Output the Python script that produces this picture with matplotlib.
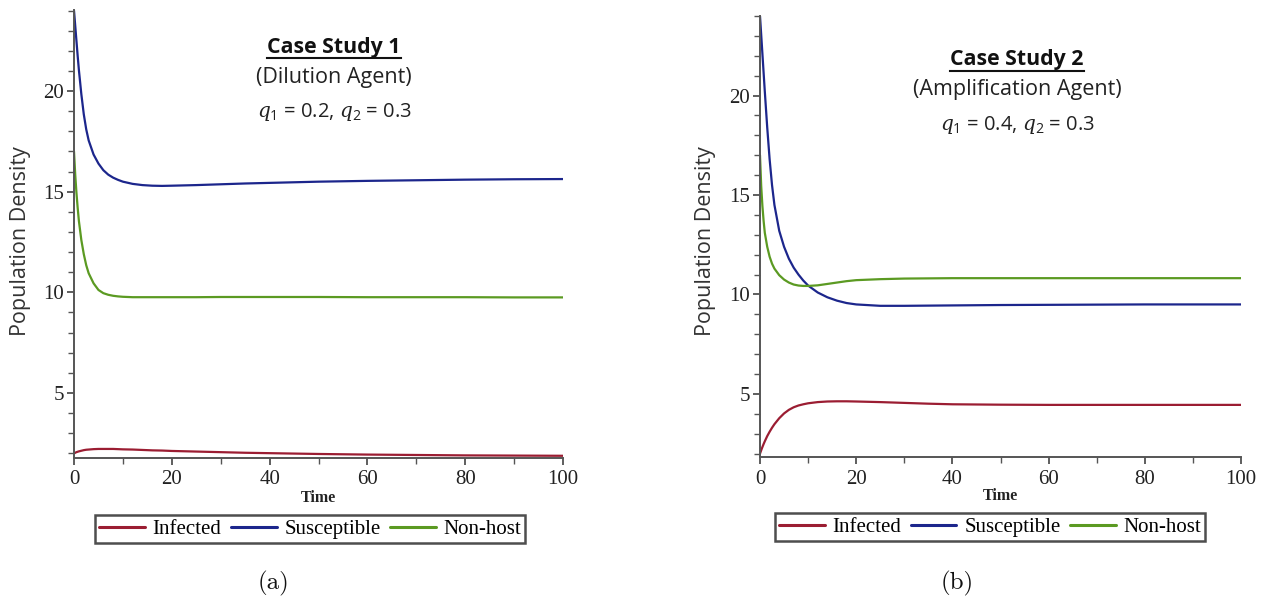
import matplotlib
matplotlib.use("Agg")
import matplotlib.pyplot as plt
from matplotlib.lines import Line2D
from matplotlib.ticker import MultipleLocator

# ---------------- data ----------------
time_a = [0, 0.25, 0.5, 0.75, 1, 1.5, 2, 2.5, 3, 4, 5, 6, 7, 8, 9, 10, 12, 14, 16, 18, 20,
          25, 30, 35, 40, 50, 60, 70, 80, 90, 100]
infected_a = [2.0, 2.03, 2.06, 2.08, 2.1, 2.13, 2.16, 2.18, 2.19, 2.21, 2.22, 2.22, 2.22, 2.22, 2.21, 2.2,
              2.19, 2.17, 2.15, 2.14, 2.12, 2.09, 2.06, 2.03, 2.01, 1.97, 1.94, 1.92, 1.9, 1.89, 1.88]
susceptible_a = [24.0, 23.25, 22.5, 21.75, 21.05, 19.85, 18.85, 18.1, 17.55, 16.85, 16.4, 16.07, 15.85,
                 15.7, 15.59, 15.5, 15.39, 15.33, 15.3, 15.29, 15.3, 15.33, 15.37, 15.41, 15.44, 15.5,
                 15.54, 15.57, 15.6, 15.62, 15.63]
nonhost_a = [17.0, 15.85, 14.95, 14.2, 13.55, 12.6, 11.9, 11.35, 10.95, 10.45, 10.12, 9.96, 9.88, 9.83,
             9.8, 9.78, 9.76, 9.76, 9.76, 9.76, 9.76, 9.76, 9.77, 9.77, 9.77, 9.77, 9.76, 9.76, 9.76,
             9.75, 9.75]

time_b = [0, 0.25, 0.5, 0.75, 1, 1.5, 2, 2.5, 3, 4, 5, 6, 7, 8, 9, 10, 12, 14, 16, 18, 20,
          25, 30, 35, 40, 50, 60, 70, 80, 90, 100]
infected_b = [2.0, 2.17, 2.33, 2.48, 2.62, 2.88, 3.1, 3.3, 3.48, 3.78, 4.02, 4.2, 4.33, 4.42, 4.48, 4.53,
              4.59, 4.62, 4.63, 4.63, 4.62, 4.59, 4.55, 4.51, 4.48, 4.46, 4.45, 4.45, 4.45, 4.45, 4.45]
susceptible_b = [24.0, 23.05, 22.1, 21.15, 20.2, 18.4, 16.8, 15.5, 14.5, 13.2, 12.4, 11.8, 11.35, 11.0,
                 10.7, 10.45, 10.1, 9.86, 9.69, 9.57, 9.5, 9.43, 9.43, 9.44, 9.45, 9.47, 9.48, 9.49, 9.5,
                 9.5, 9.5]
nonhost_b = [17.0, 15.45, 14.45, 13.7, 13.1, 12.4, 11.9, 11.55, 11.3, 10.97, 10.75, 10.6, 10.5, 10.45,
             10.43, 10.43, 10.46, 10.53, 10.6, 10.67, 10.72, 10.77, 10.8, 10.81, 10.82, 10.82, 10.82,
             10.82, 10.82, 10.82, 10.82]

series_names = ["Infected", "Susceptible", "Non-host"]
series_colors = ["#9b1d32", "#1c268c", "#5b9a22"]

titles = ["Case Study 1", "Case Study 2"]
subtitles = ["(Dilution Agent)", "(Amplification Agent)"]
params = [r"$q_1$ = 0.2, $q_2$ = 0.3", r"$q_1$ = 0.4, $q_2$ = 0.3"]
captions = ["(a)", "(b)"]

# ---------------- figure ----------------
plt.rcParams["mathtext.fontset"] = "custom"
plt.rcParams["mathtext.it"] = "DejaVu Serif:italic"
plt.rcParams["mathtext.rm"] = "Open Sans"

fig = plt.figure(figsize=(12.66, 6.0), dpi=100)
W, H = 1266, 600

axes_px = [(74, 10, 563, 458), (760, 16, 1241, 457)]
ylims = [(1.77, 24.03), (1.83, 24.0)]
data = [(time_a, [infected_a, susceptible_a, nonhost_a]),
        (time_b, [infected_b, susceptible_b, nonhost_b])]
title_pos = [(334, 47), (1017, 60)]
legend_center = [(310, 529), (990, 527)]
caption_pos = [(273, 583), (957, 583)]
ylabel_x = [21, 706]

renderer = fig.canvas.get_renderer()
for i in range(2):
    x0, y0, x1, y1 = axes_px[i]
    ax = fig.add_axes([x0 / W, 1 - y1 / H, (x1 - x0) / W, (y1 - y0) / H])
    t, ys = data[i]
    handles = []
    for name, vals, col in zip(series_names, ys, series_colors):
        h, = ax.plot(t, vals, color=col, lw=1.6, label=name, solid_capstyle="round",
                     solid_joinstyle="round")
        handles.append(h)
    ax.set_xlim(0, 100)
    ax.set_ylim(*ylims[i])
    for s in ["top", "right"]:
        ax.spines[s].set_visible(False)
    for s in ["left", "bottom"]:
        ax.spines[s].set_color("#555555")
        ax.spines[s].set_linewidth(1.4)
    ax.xaxis.set_major_locator(MultipleLocator(20))
    ax.xaxis.set_minor_locator(MultipleLocator(10))
    ax.yaxis.set_major_locator(MultipleLocator(5))
    ax.yaxis.set_minor_locator(MultipleLocator(1))
    ax.tick_params(axis="both", which="major", length=5, width=1.1, color="#333333",
                   labelsize=15, labelcolor="#222222", direction="out")
    ax.tick_params(axis="x", which="major", pad=4)
    ax.tick_params(axis="y", which="major", pad=2)
    ax.tick_params(axis="both", which="minor", length=4, width=1.0, color="#555555", direction="out")
    for lab in ax.get_xticklabels() + ax.get_yticklabels():
        lab.set_fontfamily("Liberation Serif")
    ax.set_xlabel("Time", fontfamily="Liberation Serif", fontweight="bold", fontsize=11.5,
                  color="#222222", labelpad=0)
    fig.text(ylabel_x[i] / W, 1 - 241 / H, "Population Density", rotation=90,
             ha="center", va="center", fontsize=15.5, fontfamily="Open Sans", color="#333333")

    tx, ty = title_pos[i]
    tt = fig.text(tx / W, 1 - ty / H, titles[i], ha="center", va="center",
                  fontsize=15.3, fontweight="bold", fontfamily="Open Sans", color="#111111")
    bb = tt.get_window_extent(renderer=renderer)
    uy = bb.y0 - 0.5
    fig.add_artist(Line2D([bb.x0 / W, bb.x1 / W], [uy / H, uy / H], color="#111111",
                          lw=1.5, transform=fig.transFigure))
    fig.text(tx / W, 1 - (ty + 30) / H, subtitles[i], ha="center", va="center",
             fontsize=15.5, fontfamily="Open Sans", color="#222222")
    fig.text(tx / W, 1 - (ty + 65) / H, params[i], ha="center", va="center",
             fontsize=14.5, fontfamily="Open Sans", color="#222222")

    lx, ly = legend_center[i]
    leg = fig.legend(handles=handles, loc="center", bbox_to_anchor=(lx / W, 1 - ly / H),
                     ncol=3, frameon=True, fancybox=False, handlelength=2.2,
                     handletextpad=0.37, columnspacing=0.45, borderpad=0.2,
                     borderaxespad=0, prop={"family": "Liberation Serif", "size": 15})
    leg.get_frame().set_edgecolor("#222222")
    leg.get_frame().set_linewidth(1.8)
    for lh in leg.get_lines():
        lh.set_linewidth(2.2)

    cx, cy = caption_pos[i]
    fig.text(cx / W, 1 - cy / H, captions[i], ha="center", va="center",
             fontsize=18, fontfamily="cmr10", color="#111111")

fig.savefig("out.png", dpi=100)
